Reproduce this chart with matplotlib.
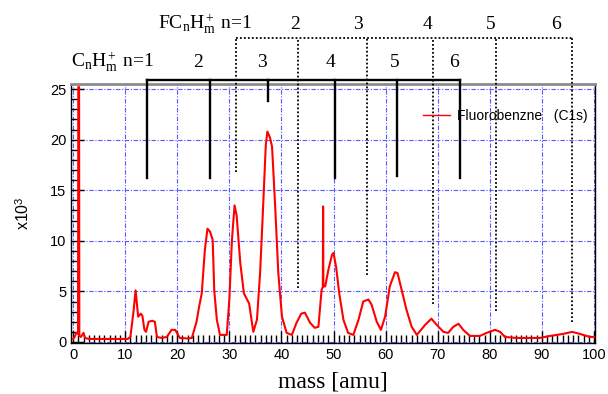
import matplotlib
matplotlib.use("Agg")
import matplotlib.pyplot as plt
from matplotlib.ticker import MultipleLocator

plt.rcParams['font.family'] = ['Liberation Sans', 'DejaVu Sans']
plt.rcParams['mathtext.fontset'] = 'custom'
plt.rcParams['mathtext.rm'] = 'Liberation Serif'
plt.rcParams['mathtext.it'] = 'Liberation Serif:italic'

# spectrum (mass [amu], intensity x10^3)
mass = [0.0, 0.3, 0.6, 0.95, 1.0, 1.15, 1.2, 1.5, 2.0, 2.3, 3.0, 5.0, 8.0, 10.5,
        11.0, 11.6, 12.0, 12.5, 13.0, 13.3, 13.7, 14.0, 14.5, 15.2, 15.7, 16.1,
        17.0, 18.0, 18.9, 19.6, 20.5, 22.0, 22.8, 23.7, 24.2, 24.7, 25.3, 25.8,
        26.3, 26.8, 27.1, 27.6, 28.2, 29.5, 30.0, 30.5, 31.0, 31.4, 32.1, 32.8,
        33.8, 34.6, 35.3, 35.9, 36.4, 37.0, 37.3, 37.8, 38.2, 38.8, 39.4, 40.1,
        41.0, 42.0, 42.9, 43.8, 44.5, 45.5, 46.4, 47.1, 47.7, 47.95, 48.0, 48.05,
        48.4, 49.0, 49.7, 50.0, 50.5, 51.1, 51.9, 52.8, 53.8, 54.8, 55.7, 56.7,
        57.3, 58.3, 59.1, 59.9, 60.8, 61.8, 62.3, 63.1, 64.0, 65.0, 66.0, 67.6,
        68.8, 69.8, 71.1, 72.0, 73.0, 74.0, 74.9, 76.2, 78.1, 79.4, 81.0, 82.0,
        82.9, 85.0, 89.6, 91.6, 94.1, 95.8, 97.3, 99.2, 100.0]
intensity = [0.3, 0.5, 0.9, 0.8, 25.2, 25.2, 0.6, 0.5, 0.9, 0.4, 0.3, 0.3, 0.3, 0.3,
             0.5, 3.0, 5.1, 2.5, 2.8, 2.6, 1.2, 1.0, 2.0, 2.1, 2.0, 0.5,
             0.4, 0.5, 1.2, 1.2, 0.4, 0.35, 0.4, 2.0, 3.5, 4.8, 9.1, 11.2,
             10.9, 10.1, 5.1, 2.2, 0.7, 0.7, 4.2, 10.1, 13.5, 12.5, 7.8, 4.8,
             3.8, 1.0, 2.2, 6.8, 12.4, 19.5, 20.8, 20.2, 19.3, 13.4, 6.8, 2.5,
             0.9, 0.7, 1.9, 2.8, 2.9, 1.9, 1.4, 1.5, 5.1, 5.5, 13.4, 5.5,
             5.5, 7.1, 8.6, 8.8, 7.4, 4.8, 2.2, 0.9, 0.7, 2.2, 4.0, 4.2,
             3.7, 2.0, 1.2, 2.5, 5.5, 6.9, 6.8, 5.1, 3.2, 1.5, 0.7, 1.7,
             2.3, 1.7, 1.0, 0.9, 1.5, 1.8, 1.2, 0.6, 0.6, 0.9, 1.2, 1.0,
             0.5, 0.4, 0.4, 0.6, 0.8, 1.0, 0.8, 0.5, 0.5]

# fragment assignment brackets
c_pos = [14.2, 26.3, 37.4, 50.3, 62.2, 74.3]
c_bottom = [16.2, 16.2, 23.8, 16.2, 16.4, 16.2]
c_top = 25.9
c_label_x = [24.0, 36.3, 49.5, 61.8, 73.1]
c_labels = ['2', '3', '4', '5', '6']

fc_pos = [31.3, 43.2, 56.4, 69.1, 81.2, 95.8]
fc_bottom = [16.8, 5.3, 6.6, 3.8, 3.1, 2.0]
fc_top = 30.0
fc_label_x = [42.6, 54.7, 68.1, 80.2, 92.7]
fc_labels = ['2', '3', '4', '5', '6']

fig = plt.figure(figsize=(6.08, 3.94), dpi=100)
ax = fig.add_axes([71/608, 1-343/394, 524/608, 259/394])

ax.plot(mass, intensity, color='red', lw=1.5, label='Fluorobenzne   (C1s)', zorder=3)

ax.set_xlim(-0.4, 100.2)
ax.set_ylim(-0.1, 25.5)

ax.xaxis.set_major_locator(MultipleLocator(10))
ax.xaxis.set_minor_locator(MultipleLocator(1))
ax.yaxis.set_major_locator(MultipleLocator(5))
ax.yaxis.set_minor_locator(MultipleLocator(1))
ax.tick_params(which='both', direction='in', labelsize=10.5, colors='black')
ax.tick_params(which='major', length=9, width=1)
ax.tick_params(which='minor', length=5.5, width=1)

ax.grid(True, which='major', color=(0.35, 0.35, 1.0), lw=0.8,
        linestyle=(0, (4, 1.5, 1, 1.5)))

for s in ['left', 'bottom', 'right']:
    ax.spines[s].set_color('black')
    ax.spines[s].set_linewidth(1.0)
ax.spines['top'].set_color((0.55, 0.55, 0.55))
ax.spines['top'].set_linewidth(2.0)

ax.set_xlabel('mass [amu]', family='Liberation Serif', fontsize=17, labelpad=7)
ax.set_ylabel(r'x10$^{\mathregular{3}}$', fontsize=11.5, labelpad=13)

# C_nH_m+ bracket (solid)
ax.plot([c_pos[0], c_pos[-1]], [c_top, c_top], color='black', lw=1.7, clip_on=False, zorder=4)
for xp, yb in zip(c_pos, c_bottom):
    ax.plot([xp, xp], [yb, c_top], color='black', lw=1.7, clip_on=False, zorder=4)

# FC_nH_m+ bracket (dotted)
ax.plot([fc_pos[0], fc_pos[-1]], [fc_top, fc_top], color='black', lw=1.3,
        linestyle=(0, (1, 1.2)), clip_on=False, zorder=4)
for xp, yb in zip(fc_pos, fc_bottom):
    ax.plot([xp, xp], [yb, fc_top], color='black', lw=1.3,
            linestyle=(0, (1, 1.2)), clip_on=False, zorder=4)

tfont = dict(family='Liberation Serif', fontsize=14, va='center')
ax.text(15.5, 27.6, r'$\mathregular{C_nH_m^+}$ n=1', ha='right', **tfont)
for xp, t in zip(c_label_x, c_labels):
    ax.text(xp, 27.6, t, ha='center', **tfont)
ax.text(34.4, 31.4, r'$\mathregular{FC_nH_m^+}$ n=1', ha='right', **tfont)
for xp, t in zip(fc_label_x, fc_labels):
    ax.text(xp, 31.4, t, ha='center', **tfont)

ax.legend(loc='center left', bbox_to_anchor=((423-71)/524, (343-116)/259),
          frameon=False, fontsize=10, handlelength=1.95, handletextpad=0.5,
          borderpad=0, borderaxespad=0)
leg = ax.get_legend()
for l in leg.get_lines():
    l.set_linewidth(1.0)

fig.savefig('out.png', dpi=100)
